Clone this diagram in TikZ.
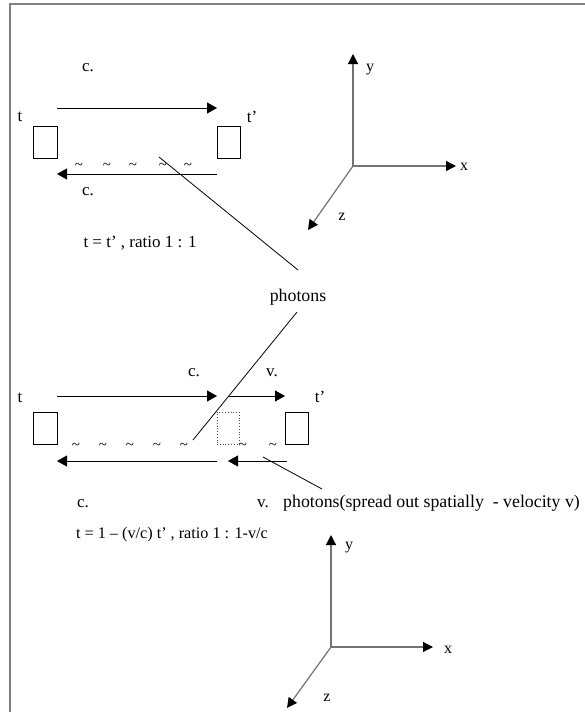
\documentclass[tikz,border=0pt]{standalone}
\usepackage{fontspec}
\setmainfont{Liberation Serif}
\usetikzlibrary{arrows.meta}
\begin{document}
\begin{tikzpicture}[x=1pt,y=-1pt,
  lbl/.style={inner sep=0pt, font=\fontsize{17}{20}\selectfont},
  capt/.style={inner sep=0pt, font=\fontsize{17.8}{21}\selectfont},
  eqa/.style={inner sep=0pt, font=\fontsize{17}{20}\selectfont},
  eqb/.style={inner sep=0pt, font=\fontsize{16.2}{19}\selectfont},
  axl/.style={inner sep=0pt, font=\fontsize{16}{19}\selectfont},
  tl/.style={inner sep=0pt, font=\fontsize{15}{17}\selectfont},
  arr/.style={line width=0.9pt, -{Triangle[length=10pt,width=11pt]}},
  axis/.style={line width=1.2pt, draw=black!55, -{Triangle[length=10pt,width=10pt,color=black]}},
  boxs/.style={draw, line width=0.8pt, inner sep=0pt},
  dbox/.style={draw=black!70, dotted, line width=0.8pt, inner sep=0pt},
  lead/.style={line width=0.8pt},
  frame/.style={draw=black!50, line width=1.6pt}]
\useasboundingbox (0,0) rectangle (585,712);
% frame
\coordinate (f1) at (10,740);
\coordinate (f2) at (10,4);
\coordinate (f3) at (600,4);
\draw[frame] (f1) -- (f2) -- (f3);

% ---------- top diagram ----------
\node[lbl] (c1) at (88,68) {c.};
\node[lbl] (t1) at (20,117) {t};
\node[lbl] (tp1) at (252,117) {t’};
\node[boxs, minimum width=24pt, minimum height=32pt] (bl1) at (45,142) {};
\node[boxs, minimum width=23pt, minimum height=32pt] (br1) at (228.5,142) {};
\coordinate (a1s) at (57,108);
\coordinate (a1e) at (217,108);
\draw[arr] (a1s) -- (a1e);
\coordinate (a2s) at (217,174);
\coordinate (a2e) at (57,174);
\draw[arr] (a2s) -- (a2e);
\node[tl] (w11) at (79,166) {\textasciitilde};
\node[tl] (w12) at (107,166) {\textasciitilde};
\node[tl] (w13) at (133,166) {\textasciitilde};
\node[tl] (w14) at (163,166) {\textasciitilde};
\node[tl] (w15) at (188,166) {\textasciitilde};
\node[lbl] (c2) at (88,192) {c.};
\node[eqa] (eq1) at (140,243) {t = t’ , ratio 1 : 1};

% photons label and leaders
\node[capt] (ph) at (298,297) {photons};
\coordinate (l1s) at (159,157);
\coordinate (l1e) at (298,270);
\draw[lead] (l1s) -- (l1e);
\coordinate (l2s) at (297,312);
\coordinate (l2e) at (193,440);
\draw[lead] (l2s) -- (l2e);

% top axes
\coordinate (o1) at (353,166);
\coordinate (y1) at (353,54);
\coordinate (x1) at (456,166);
\coordinate (z1) at (308,230);
\draw[axis] (o1) -- (y1);
\draw[axis] (o1) -- (x1);
\draw[axis] (o1) -- (z1);
\node[axl] (ly1) at (370,70) {y};
\node[axl] (lx1) at (464,167) {x};
\node[axl] (lz1) at (342,217) {z};

% ---------- bottom diagram ----------
\node[lbl] (c3) at (194,373) {c.};
\node[lbl] (v1) at (272,373) {v.};
\node[lbl] (t2) at (20,398) {t};
\node[lbl] (tp2) at (320,397) {t’};
\node[boxs, minimum width=24pt, minimum height=32pt] (bl2) at (45,428) {};
\node[dbox, minimum width=22pt, minimum height=32pt] (bm2) at (228,428) {};
\node[boxs, minimum width=23pt, minimum height=32pt] (br2) at (296.5,428) {};
\coordinate (b1s) at (57,396);
\coordinate (b1e) at (217,396);
\draw[arr] (b1s) -- (b1e);
\coordinate (b2s) at (228,396);
\coordinate (b2e) at (285,396);
\draw[arr] (b2s) -- (b2e);
\coordinate (b3s) at (217,461);
\coordinate (b3e) at (57,461);
\draw[arr] (b3s) -- (b3e);
\coordinate (b4s) at (287,461);
\coordinate (b4e) at (228,461);
\draw[arr] (b4s) -- (b4e);
\node[tl] (w21) at (76,446) {\textasciitilde};
\node[tl] (w22) at (103,446) {\textasciitilde};
\node[tl] (w23) at (130,446) {\textasciitilde};
\node[tl] (w24) at (157,446) {\textasciitilde};
\node[tl] (w25) at (184,446) {\textasciitilde};
\node[tl] (w26) at (243,446) {\textasciitilde};
\node[tl] (w27) at (273,446) {\textasciitilde};
\coordinate (l3s) at (263,457);
\coordinate (l3e) at (322,489);
\draw[lead] (l3s) -- (l3e);
\node[lbl, anchor=base] (c4) at (83,507) {c.};
\node[lbl, anchor=base] (v2) at (263,507) {v.};
\node[capt, anchor=base west] (cap) at (283,507) {photons(spread out spatially\ \ - velocity v)};
\node[eqb] (eq2) at (172,535) {t = 1 – (v/c) t’ , ratio 1 : 1-v/c};

% bottom axes
\coordinate (o2) at (331,647);
\coordinate (y2) at (331,535);
\coordinate (x2) at (433,647);
\coordinate (z2) at (287,708);
\draw[axis] (o2) -- (y2);
\draw[axis] (o2) -- (x2);
\draw[axis] (o2) -- (z2);
\node[axl] (ly2) at (349,548) {y};
\node[axl] (lx2) at (448,650) {x};
\node[axl] (lz2) at (327,698) {z};
\end{tikzpicture}
\end{document}
